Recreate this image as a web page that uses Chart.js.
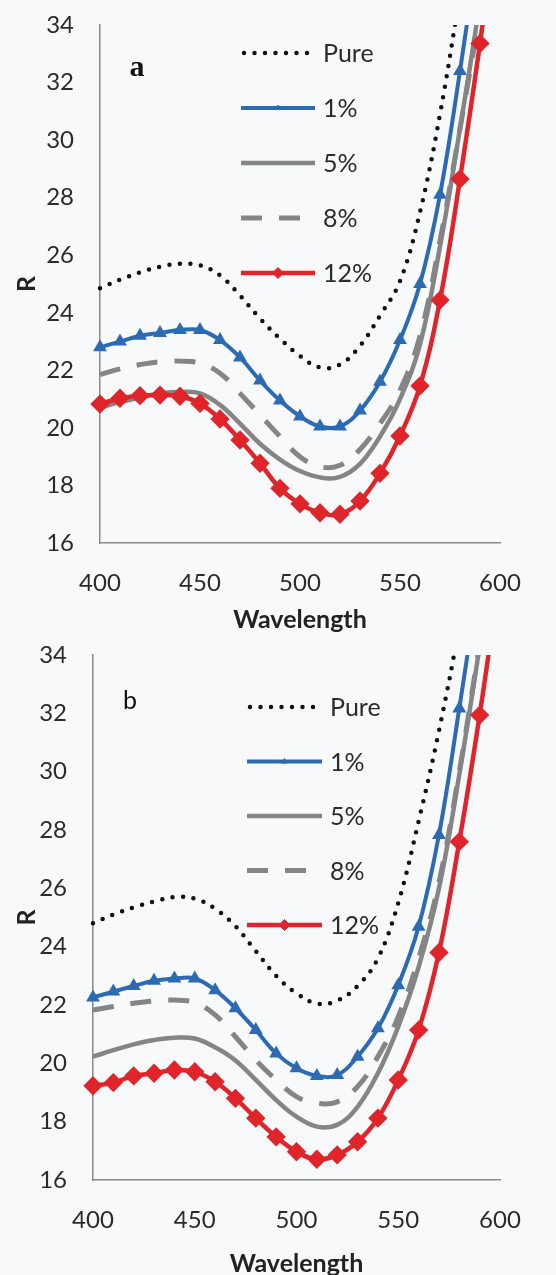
<!DOCTYPE html>
<html>
<head>
<meta charset="utf-8">
<script src="https://cdn.jsdelivr.net/npm/chart.js@4"></script>
<style>
    html, body { margin: 0; padding: 0; background: #f8f9fb; }
    canvas { display: block; }
</style>
</head>
<body>
<canvas id="chartA" width="556" height="640"></canvas>
<canvas id="chartB" width="556" height="635"></canvas>
<script>
// Wavelength (nm) sample points
const wavelengths = [400, 410, 420, 430, 440, 450, 460, 470, 480, 490, 500, 510, 520, 530, 540, 550, 560, 570, 580, 590, 600];
const seriesNames = ['Pure', '1%', '5%', '8%', '12%'];
const xTicks = [400, 450, 500, 550, 600];
const yTicks = [16, 18, 20, 22, 24, 26, 28, 30, 32, 34];

// Panel a
const pureA = [24.85, 25.15, 25.4, 25.6, 25.7, 25.65, 25.3, 24.6, 23.8, 23.1, 22.5, 22.1, 22.2, 22.85, 23.9, 25.1, 27.5, 30.9, 35.1, 39.5, 44];
const oneA = [22.8, 23.0, 23.2, 23.3, 23.4, 23.4, 23.05, 22.45, 21.65, 20.95, 20.4, 20.05, 20.05, 20.6, 21.6, 23.05, 25.0, 28.1, 32.4, 37.2, 42];
const fiveA = [20.7, 20.9, 21.05, 21.2, 21.25, 21.2, 20.8, 20.15, 19.45, 18.9, 18.5, 18.28, 18.3, 18.75, 19.7, 21.0, 22.9, 26.3, 30.4, 34.8, 39.5];
const eightA = [21.85, 22.05, 22.2, 22.3, 22.32, 22.25, 21.9, 21.2, 20.45, 19.7, 19.0, 18.65, 18.7, 19.25, 20.15, 21.3, 23.2, 26.5, 30.4, 34.5, 39.2];
const twelveA = [20.83, 21.03, 21.12, 21.14, 21.1, 20.85, 20.31, 19.58, 18.77, 17.9, 17.36, 17.05, 17.0, 17.46, 18.42, 19.72, 21.46, 24.44, 28.65, 33.36, 38.5];

// Panel b
const pureB = [24.8, 25.1, 25.35, 25.55, 25.7, 25.65, 25.3, 24.7, 23.85, 23.0, 22.4, 22.05, 22.15, 22.65, 23.6, 25.5, 28.3, 31.4, 35.0, 39.3, 44];
const oneB = [22.26, 22.46, 22.65, 22.83, 22.91, 22.91, 22.51, 21.89, 21.14, 20.34, 19.83, 19.57, 19.6, 20.23, 21.2, 22.68, 24.68, 27.83, 32.17, 36.8, 41.5];
const fiveB = [20.23, 20.45, 20.65, 20.8, 20.88, 20.85, 20.55, 20.1, 19.43, 18.74, 18.17, 17.83, 17.89, 18.51, 19.66, 21.26, 23.3, 26.0, 29.9, 34.3, 39];
const eightB = [21.83, 21.95, 22.06, 22.14, 22.17, 22.08, 21.66, 20.91, 20.11, 19.43, 18.86, 18.63, 18.68, 19.2, 20.23, 21.6, 23.6, 26.2, 30.0, 34.4, 39];
const twelveB = [19.23, 19.34, 19.57, 19.66, 19.77, 19.71, 19.37, 18.8, 18.12, 17.48, 16.97, 16.71, 16.86, 17.31, 18.12, 19.43, 21.14, 23.8, 27.6, 31.94, 36.8];

const BLUE = '#2c6bb4';
const RED = '#e0252a';
const GRAY = '#858585';
const TEXT = '#2b2b2b';
const FONT = 'Lato, "Open Sans", sans-serif';

const styles = [
    { borderColor: '#111', borderWidth: 4.5, borderDash: [0, 10.5], borderCapStyle: 'round', pointRadius: 0, order: 4 },
    { borderColor: BLUE, borderWidth: 4, pointStyle: 'triangle', pointRadius: 4, pointBackgroundColor: BLUE, pointBorderColor: BLUE, order: 3 },
    { borderColor: GRAY, borderWidth: 4.5, pointRadius: 0, order: 2 },
    { borderColor: GRAY, borderWidth: 5, borderDash: [21, 17], pointRadius: 0, order: 1 },
    { borderColor: RED, borderWidth: 4.5, pointStyle: 'rectRot', pointRadius: 6.5, pointBackgroundColor: RED, pointBorderColor: RED, order: 0 },
];

// legend drawn inside the plot area
const insideLegend = {
    id: 'insideLegend',
    afterDraw(chart, args, opts) {
        const ctx = chart.ctx;
        const area = chart.chartArea;
        chart.data.datasets.forEach((ds, i) => {
            const y = area.top + opts.top + i * opts.gap;
            const x0 = area.left + opts.left;
            const x1 = x0 + opts.length;
            ctx.save();
            ctx.strokeStyle = ds.borderColor;
            ctx.lineWidth = ds.borderWidth;
            ctx.lineCap = ds.borderCapStyle || 'butt';
            ctx.setLineDash(ds.borderDash || []);
            ctx.beginPath();
            ctx.moveTo(x0 + (ds.borderDash && ds.borderDash[0] === 0 ? 3 : 0), y);
            ctx.lineTo(x1, y);
            ctx.stroke();
            ctx.setLineDash([]);
            if (ds.pointRadius > 0) {
                ctx.fillStyle = ds.pointBackgroundColor;
                ctx.strokeStyle = ds.pointBorderColor;
                ctx.lineWidth = 1;
                Chart.helpers.drawPoint(ctx, { pointStyle: ds.pointStyle, radius: ds.pointRadius - 1, rotation: 0, borderWidth: 1 }, (x0 + x1) / 2, y);
            }
            ctx.fillStyle = TEXT;
            ctx.font = '25px ' + FONT;
            ctx.textBaseline = 'middle';
            ctx.fillText(ds.label, x1 + 8, y + 1);
            ctx.restore();
        });
    }
};

const panelLabel = {
    id: 'panelLabel',
    afterDraw(chart, args, opts) {
        const ctx = chart.ctx;
        ctx.save();
        ctx.fillStyle = '#111';
        ctx.font = opts.font;
        ctx.textAlign = 'center';
        ctx.textBaseline = 'middle';
        ctx.fillText(opts.text, opts.x, opts.y);
        ctx.restore();
    }
};

function buildChart(id, values, cfg) {
    const datasets = values.map((vals, i) => Object.assign({
        label: seriesNames[i],
        data: wavelengths.map((w, j) => ({ x: w, y: vals[j] })),
        tension: 0.4,
        fill: false,
        clip: { left: 10, top: 0, right: 0, bottom: 10 },
    }, styles[i]));

    return new Chart(document.getElementById(id), {
        type: 'line',
        data: { datasets },
        options: {
            responsive: false,
            animation: false,
            events: [],
            layout: { padding: { left: 0, right: cfg.right, top: cfg.top, bottom: 0 } },
            plugins: {
                legend: { display: false },
                tooltip: { enabled: false },
                insideLegend: cfg.legend,
                panelLabel: cfg.label,
            },
            scales: {
                x: {
                    type: 'linear',
                    min: 400,
                    max: 600,
                    afterBuildTicks: s => { s.ticks = xTicks.map(v => ({ value: v })); },
                    ticks: { color: TEXT, font: { family: FONT, size: 24 }, padding: 26, maxRotation: 0 },
                    grid: { display: false, drawTicks: false },
                    border: { color: '#8a8a8a', width: 1.5 },
                    title: { display: true, text: 'Wavelength', color: '#222', font: { family: FONT, size: 25, weight: 'bold' }, padding: { top: 0, bottom: cfg.titleBottom } },
                    afterFit: s => { s.height = cfg.xHeight; s.paddingLeft = 0; s.paddingRight = 0; },
                },
                y: {
                    min: 16,
                    max: 34,
                    afterBuildTicks: s => { s.ticks = yTicks.map(v => ({ value: v })); },
                    ticks: { color: TEXT, font: { family: FONT, size: 24 }, padding: 26 },
                    grid: { display: false, drawTicks: false },
                    border: { color: '#8a8a8a', width: 1.5 },
                    title: { display: true, text: 'R', color: '#222', font: { family: FONT, size: 25, weight: 'bold' }, padding: { top: 12, bottom: 0 } },
                    afterFit: s => { s.width = cfg.yWidth; s.paddingTop = 0; s.paddingBottom = 0; },
                },
            },
        },
        plugins: [insideLegend, panelLabel],
    });
}

buildChart('chartA', [pureA, oneA, fiveA, eightA, twelveA], {
    right: 56, top: 25, xHeight: 97, yWidth: 100, titleBottom: 5,
    legend: { left: 141, top: 28, gap: 55, length: 74 },
    label: { text: 'a', x: 137, y: 68, font: 'bold 30px "Liberation Serif", serif' },
});

buildChart('chartB', [pureB, oneB, fiveB, eightB, twelveB], {
    right: 56, top: 15, xHeight: 95, yWidth: 93, titleBottom: -4,
    legend: { left: 154, top: 52, gap: 54.5, length: 75 },
    label: { text: 'b', x: 130, y: 61, font: '25px ' + FONT },
});
</script>
</body>
</html>
